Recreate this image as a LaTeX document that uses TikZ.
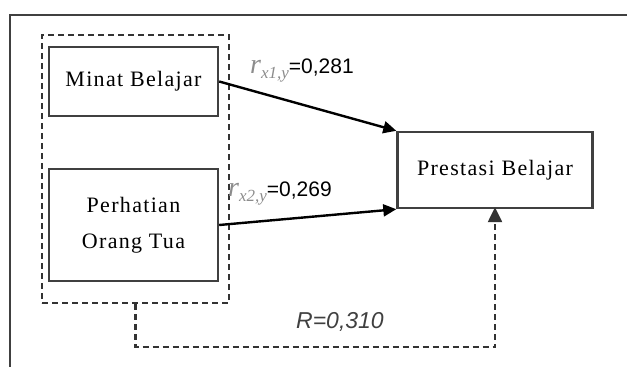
\documentclass[tikz,border=0pt]{standalone}
\usepackage{fontspec}
\setmainfont{Liberation Serif}
\setsansfont{Liberation Sans}
\usetikzlibrary{arrows.meta}

\newcommand{\rsym}[1]{\textcolor{black!45}{{\rmfamily\itshape\fontsize{28}{28}\selectfont r}\raisebox{-5pt}{\rmfamily\itshape\fontsize{17}{17}\selectfont #1}}}

\begin{document}
\begin{tikzpicture}[x=1pt,y=-1pt,
    box/.style={draw=black!75,line width=2.4pt,align=center,
      font=\fontsize{22}{36}\selectfont\addfontfeature{LetterSpace=6}},
    grp/.style={draw=black!80,line width=2.4pt,dash pattern=on 6pt off 4pt},
    arw/.style={line width=2.4pt,-{Triangle[length=13pt,width=12pt]}},
    darw/.style={grp,-{Triangle[length=15pt,width=14pt]}},
    lbl/.style={inner sep=0pt,anchor=base west,
      font=\sffamily\fontsize{21}{24}\selectfont} ]
  \useasboundingbox (0,0) rectangle (627,367);
  % frame
  \draw[black!75,line width=2.4pt] (10,367) -- (10,15) -- (627,15);
  % variables
  \node[grp,minimum width=187pt,minimum height=268pt] (group) at (135.5,169) {};
  \node[box,minimum width=169pt,minimum height=69pt] (minat) at (133.5,81.5) {Minat Belajar};
  \node[box,minimum width=169pt,minimum height=112pt] (perhatian) at (133.5,225) {Perhatian\\Orang Tua};
  \node[box,minimum width=195pt,minimum height=76pt] (prestasi) at (495,170) {Prestasi Belajar};
  % paths
  \draw[arw] (minat.east) -- (prestasi.north west);
  \draw[arw] (perhatian.east) -- (prestasi.south west);
  \draw[darw] (group.south) -- ++(0,43) coordinate (rbend) -| ([yshift=2pt]prestasi.south);
  \node[lbl] (r1) at (250,73) {\rsym{x1,y}=0,281};
  \node[lbl] (r2) at (228,196) {\rsym{x2,y}=0,269};
  \node[inner sep=0pt,text=black!75,font=\sffamily\itshape\fontsize{23}{26}\selectfont] (rr) at (340,322) {R=0,310};
\end{tikzpicture}
\end{document}
